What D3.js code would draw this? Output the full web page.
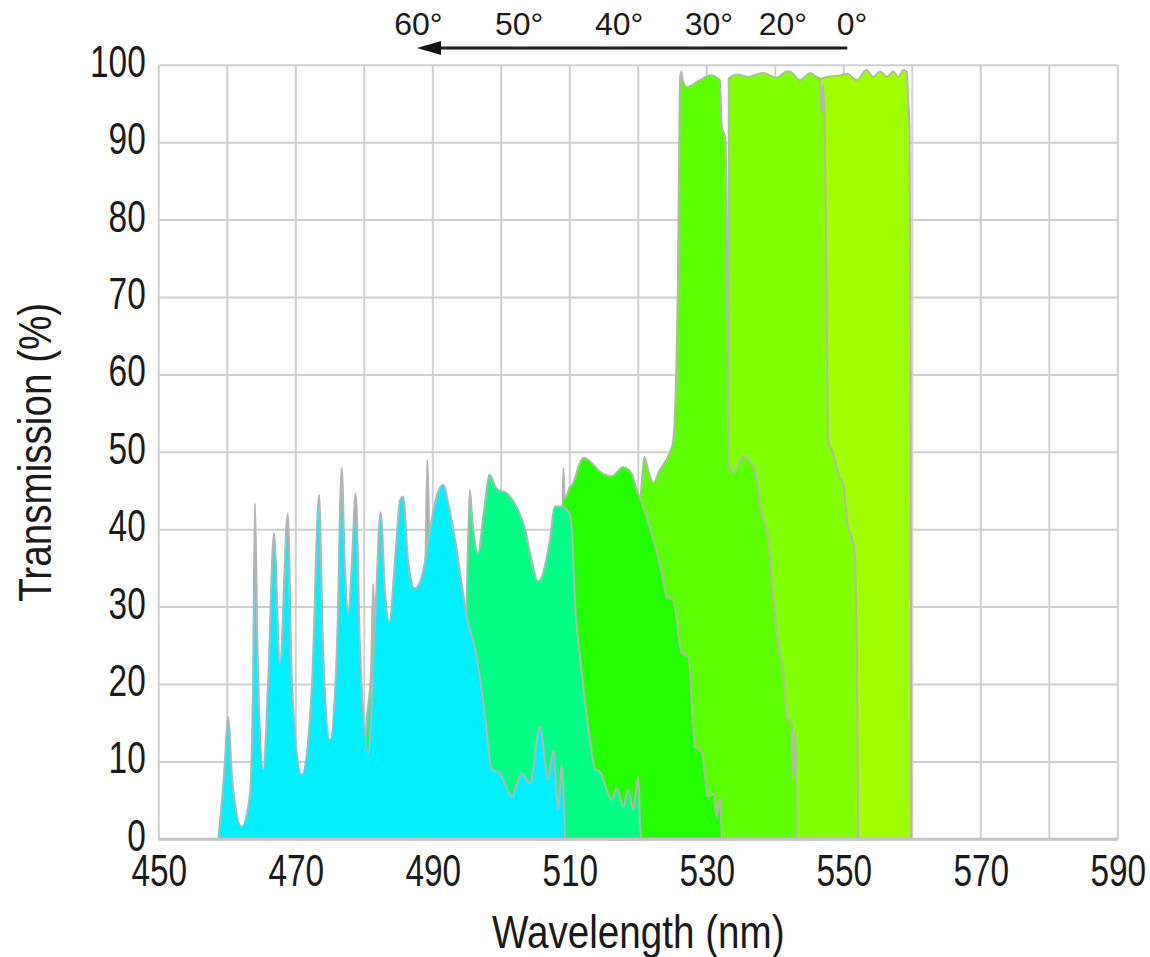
<!DOCTYPE html>
<html>
<head>
<meta charset="utf-8">
<script src="https://cdn.jsdelivr.net/npm/d3@7"></script>
<style>
  body { margin: 0; background: #fff; }
  text { font-family: "Liberation Sans", Arial, sans-serif; fill: #1a1a1a; }
</style>
</head>
<body>
<div id="main"></div>
<script>
// angles, back to front
var angles = ["0°", "20°", "30°", "40°", "50°", "60°"];
var colors = ["#a2ff00", "#80ff00", "#5cff00", "#24ff00", "#00ff84", "#00f0ff"];
// where each angle label sits above the chart (nm)
var labelNm = [551.2, 541.1, 530.3, 517.2, 502.6, 487.9];

// [wavelength nm, transmission %]
var t0 = [[543.0,0],[543.1,97.5],[546.0,98],[547.5,98.5],[549.4,98.7],[550.5,98.9],[551.9,98.1],
  [553.3,99.4],[554.3,98.5],[555.3,99.2],[556.3,98.5],[557.2,99.2],[558.0,98.5],[558.7,99.4],
  [559.2,99.2],[559.4,95.5],[559.6,92],[559.75,60],[559.85,0]];

var t20 = [[533.15,0],[533.2,98.3],[534.5,98.8],[536.0,98.5],[538.2,99],[540.2,98.4],[541.7,99.2],
  [542.1,99.2],[543.6,98.1],[545.1,99],[546.0,98.5],[546.5,98.3],[546.75,93.8],[546.95,97.5],
  [547.25,90],[547.5,70],[547.7,51.6],[548.4,49.9],[549.4,46.8],[549.9,46],[550.6,40.4],
  [551.2,39],[551.6,37],[551.8,30],[551.9,25.7],[552.0,12],[552.1,0]];

var t30 = [[515.0,0],[515.1,36],[519.5,40],[520.3,44],[520.9,49.4],[521.5,47.5],[522.2,46],
  [523.0,47.5],[524.6,50],[525.1,51.5],[525.75,70.5],[526.0,92],[526.1,98.5],[526.3,99.2],
  [526.5,98],[527.1,97.2],[529.0,98.1],[530.5,98.7],[531.9,98.1],[532.2,92],[532.7,90.7],
  [533.0,70],[533.1,50],[533.4,48],[533.87,47.3],[535.33,49.4],[537.04,47.7],[537.77,43],
  [538.98,38.7],[539.71,30.9],[540.44,24.9],[541.17,21.4],[541.67,15.8],[542.39,15],
  [542.63,7.7],[542.88,14],[543.12,0]];

var t40 = [[505.0,0],[505.1,25],[508.5,30],[508.9,40],[509.05,48],[509.3,44],[510.0,45.5],
  [510.5,46],[511.2,48],[512.0,49.3],[513.0,48.8],[514.4,47.5],[516.1,46.9],[517.8,48.1],
  [519.0,47.3],[519.8,45.1],[520.7,43],[522.2,38.7],[523.65,33.5],[524.15,31.3],[525.1,30.9],
  [526.34,24],[527.3,23.6],[528.28,12],[529.26,11.3],[530.22,5.5],[530.95,5.9],[531.45,2.9],
  [531.93,5.3],[532.18,0]];

var t50 = [[470.0,0],[470.1,5],[479.8,10],[480.4,16],[481.0,22],[481.3,33],[481.6,24],[482.0,20],
  [485.0,22],[488.8,30],[489.2,49],[489.5,40],[490.0,36],[494.5,25],[494.9,30],[495.2,40],
  [495.4,45.1],[495.8,41],[496.6,36.9],[497.4,42],[498.3,47.1],[499.3,45.3],[500.8,44.7],
  [502.2,43],[503.5,40],[504.2,37],[505.4,33.3],[507.1,38.7],[507.8,43],[508.8,43],[510.0,42],
  [510.3,40],[510.8,30],[511.49,23.6],[512.95,12.8],[513.68,9],[514.41,8.7],[515.39,6.4],
  [516.12,5.1],[516.85,6.6],[517.81,4.2],[518.54,6.4],[519.27,3.8],[520.0,8.1],[520.3,1],[520.5,0]];

var t60 = [[458.69,0],[459.5,8],[460.15,15.8],[460.69,8],[462.1,1.6],[463.31,6],[463.75,20],
  [464.04,43.4],[464.4,25],[465.26,9],[465.94,20],[466.82,39.5],[467.69,22.7],[468.82,42.1],
  [469.45,20],[470.86,8.3],[472.36,20],[473.39,44.5],[473.97,25],[474.99,12.8],[476.01,25],
  [476.7,48],[477.18,35],[477.66,29.2],[478.2,36],[478.74,44.7],[479.37,25],[480.58,11.1],
  [481.56,28],[482.39,42.3],[483.02,32],[483.65,28.1],[484.48,36],[485.21,43.8],[485.69,44.3],
  [486.38,36],[487.4,32.4],[488.42,34],[489.59,40],[490.61,44.5],[491.53,45.8],[492.36,43],
  [493.49,37.4],[494.95,28.8],[496.41,23.6],[497.62,15.8],[498.6,9],[499.81,8.5],[501.52,5.5],
  [502.98,8.5],[504.19,7.2],[505.65,14.5],[506.86,7.7],[507.59,11.5],[508.32,3.8],[508.82,9.6],
  [509.3,0]];

var series = [t0, t20, t30, t40, t50, t60];

var xGrid = d3.range(450, 591, 10);
var xLabels = d3.range(450, 591, 20);
var yTicks = d3.range(0, 101, 10);

var width = 1150, height = 957;
var x = d3.scaleLinear().domain([450, 590]).range([158.8, 1117.8]);
var y = d3.scaleLinear().domain([0, 100]).range([839.3, 65.3]);

// no narrow font installed, squeeze the text instead
var narrow = 0.76;

var svg = d3.select("#main").append("svg")
    .attr("width", width)
    .attr("height", height);

// grid
svg.append("g").selectAll("line")
    .data(xGrid)
    .enter().append("line")
      .attr("x1", function(d){ return x(d); })
      .attr("x2", function(d){ return x(d); })
      .attr("y1", y(0))
      .attr("y2", y(100))
      .attr("stroke", "#cfcfcf")
      .attr("stroke-width", 2);

svg.append("g").selectAll("line")
    .data(yTicks)
    .enter().append("line")
      .attr("x1", x(450))
      .attr("x2", x(590))
      .attr("y1", function(d){ return y(d); })
      .attr("y2", function(d){ return y(d); })
      .attr("stroke", "#cfcfcf")
      .attr("stroke-width", 2);

// spectra, 0 deg at the back
var area = d3.area()
    .x(function(d){ return x(d[0]); })
    .y0(y(0))
    .y1(function(d){ return y(d[1]); })
    .curve(d3.curveMonotoneX);

svg.append("g").selectAll("path")
    .data(series)
    .enter().append("path")
      .attr("d", area)
      .attr("fill", function(d, i){ return colors[i]; })
      .attr("stroke", "#b5b5b5")
      .attr("stroke-width", 2)
      .attr("stroke-linejoin", "round");

// base line
svg.append("line")
    .attr("x1", x(450)).attr("x2", x(590))
    .attr("y1", y(0)).attr("y2", y(0))
    .attr("stroke", "#c4c4c4")
    .attr("stroke-width", 3);

// axes
var xAxis = d3.axisBottom(x).tickValues(xLabels).tickSize(0).tickPadding(15);
var yAxis = d3.axisLeft(y).tickValues(yTicks).tickSize(0).tickPadding(0);

svg.append("g")
    .attr("transform", "translate(0," + y(0) + ")")
    .call(xAxis)
    .call(function(g){ g.select(".domain").remove(); })
    .selectAll("text")
      .style("font-size", "44px")
      .attr("transform", "scale(" + narrow + ",1)");

svg.append("g")
    .attr("transform", "translate(" + x(450) + ",0)")
    .call(yAxis)
    .call(function(g){ g.select(".domain").remove(); })
    .selectAll("text")
      .style("font-size", "44px")
      .attr("x", 0)
      .attr("dy", "0.25em")
      .attr("transform", "translate(-13,0) scale(" + narrow + ",1)");

svg.append("text")
    .attr("transform", "translate(" + ((x(450) + x(590)) / 2) + ",948) scale(0.84,1)")
    .attr("text-anchor", "middle")
    .style("font-size", "46px")
    .text("Wavelength (nm)");

svg.append("text")
    .attr("transform", "translate(51," + ((y(0) + y(100)) / 2) + ") rotate(-90) scale(0.84,1)")
    .attr("text-anchor", "middle")
    .style("font-size", "46px")
    .text("Transmission (%)");

// angle header with arrow, pointing to larger angles
var arrowY = 48;
svg.append("line")
    .attr("x1", x(550.5)).attr("x2", x(490.5))
    .attr("y1", arrowY).attr("y2", arrowY)
    .attr("stroke", "#222")
    .attr("stroke-width", 3);

svg.append("path")
    .attr("d", d3.line()([[x(487.7), arrowY], [x(491.2), arrowY - 7], [x(491.2), arrowY + 7]]) + "Z")
    .attr("fill", "#111");

svg.append("g").selectAll("text")
    .data(angles)
    .enter().append("text")
      .attr("x", function(d, i){ return x(labelNm[i]); })
      .attr("y", 35)
      .attr("text-anchor", "middle")
      .style("font-size", "32px")
      .text(function(d){ return d; });
</script>
</body>
</html>
